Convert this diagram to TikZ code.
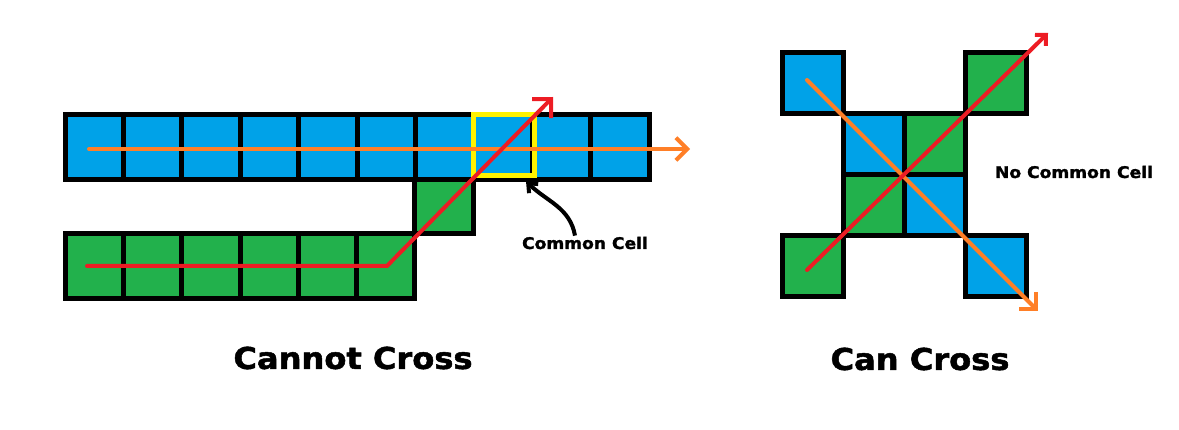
\documentclass[tikz,border=0pt]{standalone}
\usepackage{fontspec}
\setmainfont{DejaVu Sans}
\newfontfamily\heavyfont[FakeBold=1.6]{DejaVu Sans Bold}
\usetikzlibrary{arrows.meta}
\definecolor{cellblue}{HTML}{00A2E8}
\definecolor{cellgreen}{HTML}{22B14C}
\definecolor{pathred}{HTML}{ED1C24}
\definecolor{pathorange}{HTML}{FF7F27}
\definecolor{markyellow}{HTML}{FFF200}

\begin{document}
\begin{tikzpicture}[x=1pt, y=-1pt, cell/.style={draw, line width=5pt, inner sep=0pt, outer sep=0pt, minimum width=58.4pt, minimum height=65pt}, sq/.style={draw, line width=5pt, inner sep=0pt, outer sep=0pt, minimum size=61pt}, lbl/.style={font=\fontsize{16}{18}\selectfont\heavyfont, inner sep=1pt, xscale=1.07}, ttl/.style={font=\fontsize{30}{34}\selectfont\heavyfont, inner sep=1pt, xscale=1.07}, route/.style={line width=4pt, line cap=round}]
	\useasboundingbox (0,0) rectangle (1179,430);
	% left: the two paths share one cell
	\foreach \k in {0,...,9} {\node[cell, fill=cellblue] (b\k) at ({94.2+58.4*\k},147) {};}
	\foreach \k in {0,...,5} {\node[cell, fill=cellgreen, minimum width=58.2pt] (g\k) at ({94.6+58.2*\k},266) {};}
	\node[cell, fill=cellgreen, minimum width=59.5pt, minimum height=54pt] (gs) at (444.2,206.5) {};
	\node[draw=markyellow, line width=5pt, minimum size=61pt, inner sep=0pt, outer sep=0pt] (common) at (503.5,145.5) {};
	\coordinate (oa) at (89,149); \coordinate (ob) at (690,149);
	\coordinate (ra) at (87,266); \coordinate (rk) at (387,266); \coordinate (rb) at (553,97);
	\draw[route, pathorange, -{Straight Barb[angle=90:16pt]}] (oa) -- (ob);
	\draw[route, pathred, -{Straight Barb[angle=90:19pt]}] (ra) -- (rk) -- (rb);
	\node[lbl] (ccl) at (585,243) {Common Cell};
	\draw[line width=4pt, -{Straight Barb[angle=80:10pt]}] ([xshift=-10pt]ccl.north) to[out=100, in=-45] ([xshift=-8pt,yshift=-5pt]common.south east);
	\node[ttl] (cannot) at (353,358) {Cannot Cross};
	% right: the paths only touch at a corner
	\foreach \c/\r/\f in {0/0/cellblue, 1/1/cellblue, 2/1/cellgreen, 1/2/cellgreen, 2/2/cellblue, 3/0/cellgreen, 0/3/cellgreen, 3/3/cellblue} {\node[sq, fill=\f] (s\c\r) at ({813+61*\c},{83+61*\r}) {};}
	\coordinate (oc) at (807,80); \coordinate (od) at (1038,311);
	\coordinate (rc) at (807,270); \coordinate (rd) at (1048,33);
	\draw[route, pathorange, -{Straight Barb[angle=90:17pt]}] (oc) -- (od);
	\draw[route, pathred, -{Straight Barb[angle=90:11pt]}] (rc) -- (rd);
	\node[lbl] (nocl) at (1074,172) {No Common Cell};
	\node[ttl] (can) at (920,359) {Can Cross};
\end{tikzpicture}
\end{document}
